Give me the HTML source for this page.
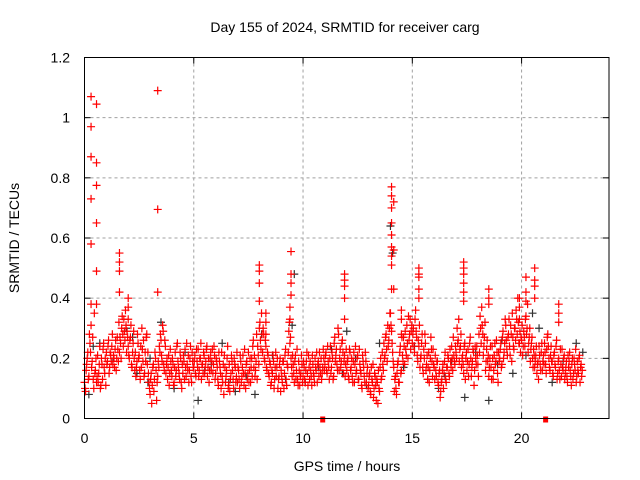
<!DOCTYPE html>
<html><head><meta charset="utf-8"><style>
html,body{margin:0;padding:0;background:#fff}
svg{display:block;font-family:"Liberation Sans",sans-serif}
</style></head><body>
<svg id="chart" width="640" height="480" viewBox="0 0 640 480">
<rect x="0" y="0" width="640" height="480" fill="#fff"/>
<text x="345" y="32" font-size="14" text-anchor="middle">Day 155 of 2024, SRMTID for receiver carg</text>
<text x="347" y="471" font-size="14" text-anchor="middle">GPS time / hours</text>
<text transform="translate(19,238) rotate(-90)" font-size="14" text-anchor="middle">SRMTID / TECUs</text>
<g id="grid"></g>
<g id="axes"></g>
<g id="marks"></g>
<rect x="84.5" y="57.5" width="524.5" height="361" fill="none" stroke="#000" stroke-width="1"/>
</svg>
<script>
const xTicks=[0,5,10,15,20];
const yTicks=[0,0.2,0.4,0.6,0.8,1,1.2];
const yTickLabels=["0","0.2","0.4","0.6","0.8","1","1.2"];
const redStart=0;
const redStep=0.05;
const redValues=[
0.12,0.09,0.18,0.22,0.14,0.25,0.31,0.19,0.13,0.35,0.16,0.12,0.21,0.15,0.24,0.11,0.18,0.23,0.17,0.20,
0.22,0.19,0.26,0.17,0.21,0.24,0.18,0.20,0.23,0.16,0.27,0.19,0.22,0.25,0.30,0.28,0.33,0.26,0.31,0.29,
0.24,0.20,0.27,0.18,0.22,0.29,0.16,0.14,0.19,0.25,0.21,0.13,0.17,0.23,0.26,0.15,0.19,0.28,0.22,0.12,
0.08,0.15,0.11,0.18,0.13,0.20,0.06,0.14,0.17,0.22,0.26,0.19,0.29,0.16,0.24,0.18,0.13,0.21,0.15,0.19,
0.14,0.18,0.12,0.22,0.16,0.25,0.17,0.13,0.20,0.10,0.15,0.19,0.23,0.14,0.18,0.21,0.16,0.24,0.12,0.19,
0.17,0.21,0.14,0.19,0.23,0.16,0.20,0.13,0.18,0.22,0.15,0.19,0.24,0.17,0.12,0.20,0.16,0.23,0.18,0.21,
0.15,0.19,0.13,0.22,0.17,0.10,0.14,0.18,0.21,0.12,0.16,0.24,0.11,0.09,0.15,0.19,0.13,0.20,0.17,0.14,
0.12,0.16,0.10,0.19,0.14,0.21,0.11,0.15,0.18,0.13,0.22,0.16,0.12,0.20,0.24,0.17,0.14,0.19,0.13,0.21,
0.30,0.26,0.35,0.22,0.28,0.19,0.24,0.16,0.21,0.14,0.18,0.12,0.15,0.19,0.13,0.22,0.17,0.10,0.14,0.20,
0.16,0.12,0.19,0.15,0.23,0.11,0.17,0.29,0.25,0.20,0.14,0.18,0.12,0.21,0.16,0.13,0.19,0.11,0.15,0.18,
0.14,0.17,0.12,0.19,0.15,0.21,0.13,0.16,0.11,0.18,0.14,0.20,0.16,0.12,0.19,0.22,0.15,0.13,0.17,0.20,
0.18,0.22,0.15,0.19,0.13,0.24,0.17,0.20,0.14,0.27,0.21,0.18,0.30,0.16,0.23,0.19,0.26,0.15,0.21,0.18,
0.16,0.20,0.13,0.22,0.17,0.14,0.19,0.12,0.24,0.16,0.21,0.13,0.18,0.15,0.10,0.19,0.14,0.22,0.12,0.17,
0.11,0.15,0.08,0.13,0.18,0.10,0.14,0.06,0.12,0.16,0.09,0.20,0.14,0.18,0.25,0.21,0.28,0.19,0.24,0.30,
0.35,0.29,0.22,0.17,0.13,0.10,0.15,0.19,0.12,0.24,0.16,0.21,0.27,0.18,0.23,0.31,0.20,0.26,0.33,0.29,
0.25,0.30,0.22,0.36,0.27,0.19,0.24,0.17,0.21,0.28,0.15,0.20,0.25,0.18,0.13,0.22,0.16,0.27,0.19,0.23,
0.17,0.21,0.14,0.19,0.11,0.16,0.09,0.13,0.18,0.15,0.22,0.12,0.17,0.20,0.14,0.19,0.24,0.16,0.21,0.18,
0.22,0.30,0.26,0.19,0.24,0.17,0.21,0.15,0.25,0.20,0.16,0.23,0.18,0.27,0.14,0.19,0.22,0.16,0.20,0.24,
0.18,0.28,0.34,0.25,0.31,0.21,0.27,0.16,0.23,0.19,0.14,0.20,0.17,0.24,0.13,0.21,0.18,0.26,0.15,0.22,
0.20,0.25,0.18,0.29,0.22,0.33,0.26,0.21,0.28,0.24,0.31,0.19,0.27,0.23,0.30,0.36,0.28,0.32,0.25,0.22,
0.26,0.21,0.29,0.24,0.34,0.30,0.22,0.27,0.19,0.25,0.20,0.23,0.17,0.21,0.15,0.19,0.24,0.18,0.22,0.16,
0.21,0.25,0.18,0.23,0.28,0.20,0.16,0.24,0.19,0.14,0.22,0.17,0.26,0.15,0.20,0.13,0.18,0.23,0.16,0.21,
0.15,0.19,0.12,0.17,0.22,0.14,0.18,0.13,0.20,0.16,0.12,0.19,0.15,0.21,0.17,0.14];
const red2Start=0.025;
const red2Step=0.05;
const red2Values=[
0.10,0.16,0.20,0.13,0.28,0.22,0.17,0.27,0.10,0.15,0.20,0.14,0.12,0.18,0.10,0.20,0.13,0.25,0.15,0.11,
0.18,0.24,0.15,0.22,0.19,0.28,0.21,0.17,0.26,0.20,0.23,0.32,0.27,0.20,0.34,0.24,0.29,0.36,0.22,0.27,
0.21,0.26,0.31,0.17,0.25,0.20,0.22,0.17,0.28,0.20,0.16,0.24,0.30,0.19,0.14,0.22,0.27,0.18,0.15,0.10,
0.13,0.05,0.17,0.09,0.22,0.16,0.12,0.19,0.24,0.28,0.21,0.31,0.18,0.26,0.15,0.20,0.17,0.11,0.23,0.16,
0.20,0.11,0.17,0.14,0.24,0.19,0.15,0.22,0.12,0.18,0.21,0.13,0.17,0.25,0.16,0.12,0.20,0.14,0.22,0.17,
0.19,0.15,0.23,0.17,0.14,0.20,0.25,0.18,0.15,0.21,0.17,0.23,0.14,0.20,0.16,0.22,0.19,0.15,0.24,0.13,
0.20,0.17,0.11,0.19,0.15,0.22,0.12,0.08,0.17,0.14,0.20,0.10,0.18,0.13,0.21,0.16,0.10,0.18,0.12,0.22,
0.17,0.13,0.21,0.12,0.17,0.15,0.23,0.10,0.19,0.15,0.12,0.20,0.17,0.14,0.26,0.21,0.16,0.28,0.24,0.18,
0.32,0.23,0.28,0.30,0.20,0.26,0.17,0.22,0.15,0.19,0.11,0.16,0.21,0.10,0.17,0.14,0.20,0.13,0.18,0.09,
0.14,0.19,0.10,0.21,0.13,0.18,0.22,0.32,0.27,0.17,0.21,0.15,0.19,0.13,0.23,0.11,0.16,0.14,0.21,0.12,
0.19,0.13,0.16,0.22,0.11,0.17,0.19,0.14,0.21,0.15,0.12,0.17,0.22,0.18,0.14,0.17,0.20,0.15,0.23,0.16,
0.21,0.16,0.24,0.17,0.20,0.15,0.22,0.13,0.25,0.19,0.23,0.16,0.28,0.20,0.17,0.25,0.22,0.19,0.14,0.23,
0.19,0.14,0.23,0.16,0.20,0.12,0.22,0.18,0.15,0.20,0.13,0.23,0.16,0.11,0.21,0.17,0.12,0.19,0.15,0.10,
0.14,0.09,0.17,0.12,0.07,0.15,0.11,0.13,0.05,0.10,0.17,0.13,0.22,0.16,0.20,0.27,0.23,0.31,0.26,0.35,
0.31,0.25,0.19,0.09,0.14,0.08,0.18,0.12,0.22,0.15,0.27,0.19,0.24,0.29,0.21,0.25,0.34,0.28,0.23,0.31,
0.28,0.24,0.33,0.29,0.21,0.26,0.31,0.20,0.25,0.17,0.23,0.28,0.16,0.21,0.17,0.12,0.20,0.23,0.14,0.18,
0.13,0.16,0.19,0.12,0.15,0.07,0.12,0.16,0.10,0.19,0.13,0.17,0.21,0.15,0.23,0.17,0.20,0.27,0.19,0.24,
0.20,0.25,0.33,0.23,0.28,0.20,0.18,0.24,0.13,0.22,0.19,0.14,0.25,0.20,0.17,0.23,0.11,0.24,0.18,0.21,
0.14,0.22,0.30,0.37,0.28,0.24,0.32,0.19,0.26,0.21,0.17,0.24,0.13,0.20,0.16,0.25,0.19,0.22,0.12,0.19,
0.23,0.17,0.27,0.20,0.25,0.31,0.23,0.27,0.33,0.21,0.28,0.35,0.24,0.30,0.26,0.33,0.40,0.25,0.29,0.27,
0.31,0.24,0.27,0.33,0.28,0.38,0.25,0.30,0.23,0.27,0.17,0.21,0.19,0.24,0.18,0.13,0.21,0.16,0.25,0.19,
0.18,0.22,0.15,0.27,0.24,0.17,0.21,0.19,0.15,0.21,0.18,0.24,0.13,0.19,0.16,0.23,0.14,0.17,0.20,0.13,
0.17,0.14,0.21,0.19,0.16,0.11,0.20,0.15,0.18,0.23,0.14,0.16,0.20,0.12,0.18,0.16];
const spikeHours=[0.3,0.3,0.3,0.3,0.3,0.3,0.55,0.55,0.55,0.55,0.55,0.55,1.6,1.6,1.6,1.6,3.35,3.35,3.35,8.0,8.0,8.0,8.0,9.45,9.45,9.45,9.45,9.4,9.4,11.9,11.9,11.9,11.9,11.9,14.05,14.05,14.05,14.05,14.05,14.05,14.05,14.05,14.05,14.15,14.15,14.15,15.3,15.3,15.3,15.3,15.3,17.35,17.35,17.35,17.35,17.35,17.35,18.5,18.5,18.5,20.2,20.2,20.2,20.6,20.6,20.6,20.6,21.7,21.7,21.7,8.3,8.3,8.3,2.0,2.0,2.0,14.5,14.5,14.5,19.9,19.9,19.9];
const spikeValues=[1.07,0.97,0.87,0.73,0.58,0.38,1.045,0.85,0.775,0.65,0.49,0.38,0.55,0.52,0.49,0.42,1.09,0.695,0.42,0.51,0.49,0.45,0.39,0.555,0.48,0.45,0.41,0.37,0.33,0.48,0.46,0.44,0.40,0.33,0.77,0.74,0.70,0.65,0.61,0.57,0.54,0.51,0.43,0.72,0.56,0.43,0.50,0.48,0.47,0.43,0.40,0.52,0.50,0.48,0.45,0.42,0.39,0.43,0.40,0.38,0.47,0.42,0.39,0.50,0.46,0.44,0.40,0.38,0.35,0.32,0.35,0.32,0.28,0.40,0.37,0.33,0.28,0.33,0.36,0.40,0.37,0.33];
const grayHours=[0.2,0.7,1.3,1.9,2.4,2.9,3.5,4.1,4.6,5.2,5.8,6.3,6.9,7.4,8.1,8.6,9.2,9.6,10.1,10.7,11.3,11.8,12.4,12.9,13.5,14.0,14.6,15.1,15.7,16.2,16.8,17.4,17.9,18.5,19.1,19.6,20.2,20.8,21.4,21.9,22.5,22.8,9.5,14.1,2.2,5.5,7.8,12.0,16.5,18.9,20.5,3.0,0.4,6.6];
const grayValues=[0.08,0.25,0.19,0.30,0.15,0.12,0.32,0.10,0.22,0.06,0.18,0.25,0.09,0.14,0.28,0.21,0.13,0.48,0.12,0.17,0.23,0.15,0.20,0.11,0.25,0.64,0.17,0.24,0.13,0.10,0.19,0.07,0.22,0.06,0.26,0.15,0.21,0.30,0.12,0.19,0.25,0.22,0.31,0.55,0.27,0.16,0.08,0.29,0.14,0.18,0.35,0.20,0.24,0.12];
const gapHours=[10.9,21.1];

const X0=84.5,X1=609,Y0=418.5,Y1=57.5,XMAX=24,YMAX=1.2;
function xs(h){return X0+(X1-X0)*h/XMAX;}
function ys(v){return Y0-(Y0-Y1)*v/YMAX;}
const NS="http://www.w3.org/2000/svg";
function mk(tag,attrs,parent){const e=document.createElementNS(NS,tag);for(const k in attrs)e.setAttribute(k,attrs[k]);parent.appendChild(e);return e;}
const grid=document.getElementById('grid'),axes=document.getElementById('axes'),marks=document.getElementById('marks');
xTicks.forEach((t,i)=>{
  const x=xs(t);
  if(t>0){const g=mk('line',{x1:x,x2:x,y1:Y1,y2:Y0,stroke:'#a0a0a0','stroke-dasharray':'3,3'},grid);
  
  }
  mk('line',{x1:x,x2:x,y1:Y0,y2:Y0-6,stroke:'#000'},axes);
  mk('line',{x1:x,x2:x,y1:Y1,y2:Y1+6,stroke:'#000'},axes);
  const tx=mk('text',{x:x,y:443,'font-size':14,'text-anchor':'middle'},axes);
  tx.textContent=String(t);
  
  
});
yTicks.forEach((t,i)=>{
  const y=ys(t);
  if(t>0&&t<YMAX){const g=mk('line',{x1:X0,x2:X1,y1:y,y2:y,stroke:'#a0a0a0','stroke-dasharray':'3,3'},grid);
  
  }
  mk('line',{x1:X0,x2:X0+6,y1:y,y2:y,stroke:'#000'},axes);
  mk('line',{x1:X1,x2:X1-6,y1:y,y2:y,stroke:'#000'},axes);
  const tx=mk('text',{x:70,y:y+5,'font-size':14,'text-anchor':'end'},axes);
  tx.textContent=yTickLabels[i];
  
  
});
function plus(h,v,color,name){
  const x=xs(h),y=ys(v);
  const p=mk('path',{d:`M${x-4},${y}H${x+4}M${x},${y-4}V${y+4}`,stroke:color,'stroke-width':1.2,fill:'none'},marks);
  
  
}
const n=Math.min(grayHours.length,grayValues.length);
for(let i=0;i<n;i++)plus(grayHours[i],grayValues[i],'#333','gray-point');
redValues.forEach((v,i)=>plus(redStart+i*redStep,v,'#ff0000','red-point'));
red2Values.forEach((v,i)=>plus(red2Start+i*red2Step,v,'#ff0000','red-point'));
const m=Math.min(spikeHours.length,spikeValues.length);
for(let i=0;i<m;i++)plus(spikeHours[i],spikeValues[i],'#ff0000','red-spike-point');
gapHours.forEach(h=>{
  const r=mk('rect',{x:xs(h)-2.5,y:Y0-2,width:5,height:6,fill:'#ff0000'},marks);
  
  
});
</script>
</body></html>
